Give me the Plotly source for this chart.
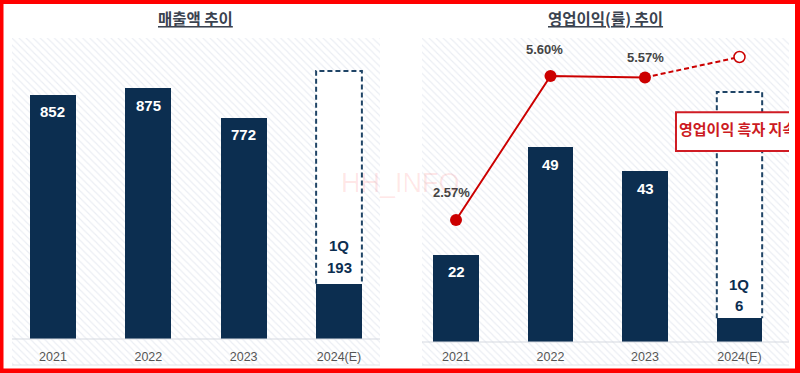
import plotly.graph_objects as go

# ---------------- data ----------------
years = ["2021", "2022", "2023", "2024(E)"]
revenue = [852, 875, 772, 193]          # 2024 = 1Q actual
revenue_2024_est = 935                  # dashed estimate box
op_income = [22, 49, 43, 6]             # 2024 = 1Q actual
op_income_2024_est = 63                 # dashed estimate box
op_margin = [2.57, 5.60, 5.57]          # 2021-2023 (%)
op_margin_2024_est = 6.0                # projected (%)
titles = ["매출액 추이", "영업이익(률) 추이"]
callout_text = "영업이익 흑자 지속"
watermark = "HH_INFO"

# ---------------- style ----------------
W, H = 800, 373
NAVY = "#0c2e50"
RED = "#cc0000"
DASH_NAVY = "#1f4466"
FONT_NUM = "Liberation Sans, Arial, sans-serif"
FONT_KR = "Noto Sans CJK KR, sans-serif"
BAR_W = 0.48

def px_x(p):
    return p / W

def px_y(p):
    return 1 - p / H

xs = list(range(len(years)))

fig = go.Figure()

hatch = dict(shape="\\", fgcolor="#d6dce8", bgcolor="#ffffff", size=5, solidity=0.22)

# ---- left panel: revenue ----
yl = [-90.7, 1050]
fig.add_trace(go.Bar(x=[1.5], y=[yl[1] - yl[0]], base=[yl[0]], width=[4.2],
                     marker=dict(color="#ffffff", pattern=hatch, line=dict(width=0)),
                     hoverinfo="skip", showlegend=False, xaxis="x", yaxis="y"))
fig.add_trace(go.Bar(x=[xs[-1]], y=[revenue_2024_est], width=[BAR_W],
                     marker=dict(color="#ffffff", line=dict(width=0)),
                     hoverinfo="skip", showlegend=False, xaxis="x", yaxis="y"))
fig.add_trace(go.Bar(x=xs, y=revenue, width=[BAR_W] * 4,
                     marker=dict(color=NAVY, line=dict(width=0)),
                     showlegend=False, xaxis="x", yaxis="y"))
xe = xs[-1]
fig.add_trace(go.Scatter(x=[xe - BAR_W / 2, xe - BAR_W / 2, xe + BAR_W / 2, xe + BAR_W / 2],
                         y=[revenue[-1], revenue_2024_est, revenue_2024_est, revenue[-1]],
                         mode="lines", line=dict(color=DASH_NAVY, width=2, dash="5px,3px"),
                         hoverinfo="skip", showlegend=False, xaxis="x", yaxis="y"))

# ---- right panel: operating income ----
yr = [-23 / 3.97, 304 / 3.97]
fig.add_trace(go.Bar(x=[1.6], y=[yr[1] - yr[0]], base=[yr[0]], width=[4.4],
                     marker=dict(color="#ffffff", pattern=hatch, line=dict(width=0)),
                     hoverinfo="skip", showlegend=False, xaxis="x2", yaxis="y2"))
fig.add_trace(go.Bar(x=[xs[-1]], y=[op_income_2024_est], width=[BAR_W],
                     marker=dict(color="#ffffff", line=dict(width=0)),
                     hoverinfo="skip", showlegend=False, xaxis="x2", yaxis="y2"))
fig.add_trace(go.Bar(x=xs, y=op_income, width=[BAR_W] * 4,
                     marker=dict(color=NAVY, line=dict(width=0)),
                     showlegend=False, xaxis="x2", yaxis="y2"))
fig.add_trace(go.Scatter(x=[xe - BAR_W / 2, xe - BAR_W / 2, xe + BAR_W / 2, xe + BAR_W / 2],
                         y=[op_income[-1], op_income_2024_est, op_income_2024_est, op_income[-1]],
                         mode="lines", line=dict(color=DASH_NAVY, width=2, dash="5px,3px"),
                         hoverinfo="skip", showlegend=False, xaxis="x2", yaxis="y2"))
# callout box (open on the right; cut by the plot area)
cx0, cx1, cy0, cy1 = 2.328, 4.3, 48.1, 57.9
fig.add_trace(go.Scatter(x=[cx1, cx0, cx0, cx1], y=[cy0, cy0, cy1, cy1],
                         mode="lines", fill="toself", fillcolor="#ffffff",
                         line=dict(color="#d01c24", width=2),
                         hoverinfo="skip", showlegend=False, xaxis="x2", yaxis="y2"))
fig.add_trace(go.Scatter(x=[2.36], y=[(cy0 + cy1) / 2], mode="text", text=[callout_text],
                         textposition="middle right", cliponaxis=True,
                         textfont=dict(family=FONT_KR, size=15, color="#cc1a22", weight="bold"),
                         hoverinfo="skip", showlegend=False, xaxis="x2", yaxis="y2"))

# ---- operating margin line (overlay axis) ----
ym = [-23 / 47.5, 304 / 47.5]
fig.add_trace(go.Scatter(x=xs[:3], y=op_margin, mode="lines+markers",
                         line=dict(color=RED, width=2),
                         marker=dict(color=RED, size=12),
                         showlegend=False, xaxis="x2", yaxis="y3"))
fig.add_trace(go.Scatter(x=[xs[2], xs[3]], y=[op_margin[-1], op_margin_2024_est], mode="lines",
                         line=dict(color=RED, width=2, dash="5px,3px"),
                         showlegend=False, xaxis="x2", yaxis="y3"))
fig.add_trace(go.Scatter(x=[xs[3]], y=[op_margin_2024_est], mode="markers",
                         marker=dict(color="#ffffff", size=11, line=dict(color=RED, width=1.5)),
                         showlegend=False, xaxis="x2", yaxis="y3"))

annotations = []
# bar value labels
for xi, v in zip(xs[:3], revenue[:3]):
    annotations.append(dict(x=xi, y=v, xref="x", yref="y", text=f"<b>{v}</b>", showarrow=False,
                            yanchor="middle", yshift=-17,
                            font=dict(family=FONT_NUM, size=15, color="#ffffff")))
for xi, v in zip(xs[:3], op_income[:3]):
    annotations.append(dict(x=xi, y=v, xref="x2", yref="y2", text=f"<b>{v}</b>", showarrow=False,
                            yanchor="middle", yshift=-17,
                            font=dict(family=FONT_NUM, size=15, color="#ffffff")))
# 1Q labels
for ax, ay, v, s1, s2 in [("x", "y", revenue[-1], 38, 16), ("x2", "y2", op_income[-1], 34, 13)]:
    annotations.append(dict(x=xs[-1], y=v, xref=ax, yref=ay, text="<b>1Q</b>", showarrow=False,
                            yanchor="middle", yshift=s1,
                            font=dict(family=FONT_NUM, size=15, color=NAVY)))
    annotations.append(dict(x=xs[-1], y=v, xref=ax, yref=ay, text=f"<b>{v}</b>", showarrow=False,
                            yanchor="middle", yshift=s2,
                            font=dict(family=FONT_NUM, size=15, color=NAVY)))
# margin labels
shifts = [(-5, 27), (-6, 26), (0, 20)]
for xi, v, (dx, dy) in zip(xs[:3], op_margin, shifts):
    annotations.append(dict(x=xi, y=v, xref="x2", yref="y3", text=f"<b>{v:.2f}%</b>", showarrow=False,
                            yanchor="middle", xshift=dx, yshift=dy,
                            font=dict(family=FONT_NUM, size=13, color="#444444")))
# titles
for t, cx in zip(titles, [195, 605]):
    annotations.append(dict(x=px_x(cx), y=px_y(18), xref="paper", yref="paper",
                            text=f"<b><u>{t}</u></b>", showarrow=False,
                            xanchor="center", yanchor="middle",
                            font=dict(family=FONT_KR, size=15.5, color="#3b4350")))
# watermark
annotations.append(dict(x=px_x(400), y=px_y(183), xref="paper", yref="paper", text=watermark,
                        showarrow=False, xanchor="center", yanchor="middle",
                        font=dict(family=FONT_NUM, size=27, color="rgba(255,0,0,0.09)")))

shapes = [
    # baselines
    dict(type="line", xref="x domain", yref="y", x0=0, x1=1, y0=0, y1=0,
         line=dict(color="#d5d9e0", width=1), layer="above"),
    dict(type="line", xref="x2 domain", yref="y2", x0=0, x1=1, y0=0, y1=0,
         line=dict(color="#d5d9e0", width=1), layer="above"),
    dict(type="line", xref="x domain", yref="y domain", x0=0, x1=1, y0=0, y1=0,
         line=dict(color="#e2e5ea", width=1), layer="above"),
    dict(type="line", xref="x2 domain", yref="y2 domain", x0=0, x1=1, y0=0, y1=0,
         line=dict(color="#e2e5ea", width=1), layer="above"),
    # red frame
    dict(type="rect", xref="paper", yref="paper", x0=px_x(1), x1=px_x(797.5),
         y0=px_y(371), y1=px_y(1.5), line=dict(color="#ff0000", width=5), fillcolor="rgba(0,0,0,0)",
         layer="above"),
]

ydom = [px_y(365), px_y(38)]
tickfont = dict(family=FONT_NUM, size=12.5, color="#555555")
fig.update_layout(
    width=W, height=H,
    margin=dict(l=0, r=0, t=0, b=0),
    paper_bgcolor="#ffffff", plot_bgcolor="#ffffff",
    barmode="overlay", bargap=0,
    showlegend=False,
    annotations=annotations,
    shapes=shapes,
    xaxis=dict(domain=[px_x(12), px_x(380)], range=[-0.43, 3.43], anchor="free", position=px_y(339),
               tickmode="array", tickvals=xs, ticktext=years, showgrid=False, zeroline=False,
               showline=False, ticks="", ticklabelstandoff=8, tickfont=tickfont),
    yaxis=dict(domain=ydom, range=yl, visible=False),
    xaxis2=dict(domain=[px_x(422), px_x(789)], range=[-0.36, 3.524], anchor="free", position=px_y(342),
                tickmode="array", tickvals=xs, ticktext=years, showgrid=False, zeroline=False,
                showline=False, ticks="", ticklabelstandoff=5, tickfont=tickfont),
    yaxis2=dict(domain=ydom, range=yr, visible=False, anchor="x2"),
    yaxis3=dict(domain=ydom, range=ym, visible=False, overlaying="y2", anchor="x2"),
)

fig.write_html("out.html", config={"displayModeBar": False},
               post_script="document.body.style.margin='0px';document.body.style.overflow='hidden';")
